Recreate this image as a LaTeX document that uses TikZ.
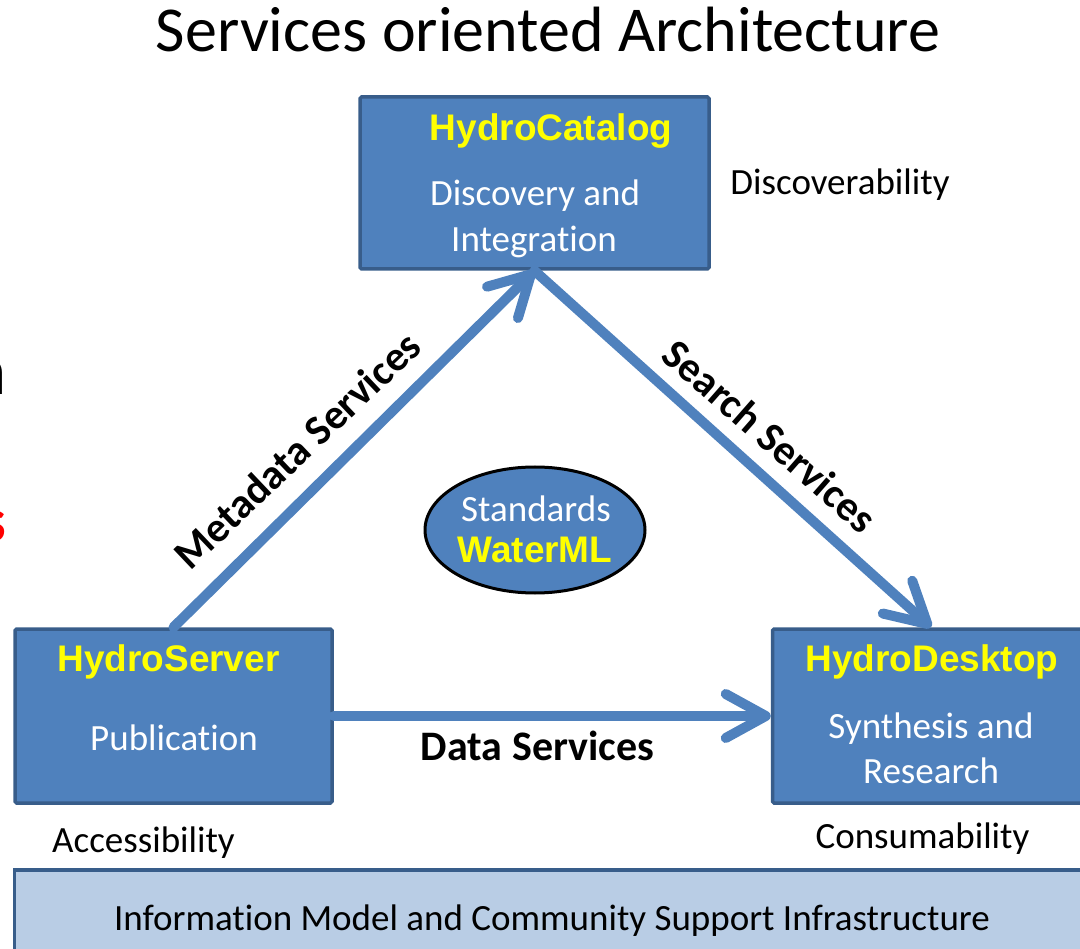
\documentclass[tikz,border=0pt]{standalone}
\usepackage{fontspec}
\setmainfont[Ligatures={NoCommon}]{Carlito}
\newfontfamily\headfont{Liberation Sans}
\usetikzlibrary{arrows.meta,shapes.geometric}
\definecolor{boxblue}{HTML}{4F81BD}
\definecolor{boxedge}{HTML}{385D8A}
\definecolor{barblue}{HTML}{B9CDE5}
\definecolor{headyellow}{HTML}{FFFF00}
\newcommand{\fsz}[1]{\fontsize{#1}{#1}\selectfont}
\begin{document}
\begin{tikzpicture}[x=1pt,y=-1pt,
    tier/.style={draw=boxedge,fill=boxblue,line width=3.5pt,rounded corners=1.5pt,inner sep=0pt},
    tiername/.style={anchor=base,text=headyellow,font=\headfont\bfseries\fsz{37}},
    tierrole/.style={anchor=base,text=white,font=\fsz{37}},
    quality/.style={anchor=base,font=\fsz{37}},
    flow/.style={draw=boxblue,line width=10pt,line cap=round,-{Straight Barb[round,length=40pt,width=44pt]}},
    flowlabel/.style={anchor=base,font=\bfseries\fsz{42}}]
  \useasboundingbox (0,0) rectangle (1080,949);

  % title and the cut off text at the left edge
  \node[anchor=base,font=\fsz{64}] (title) at (548,52) {Services oriented Architecture};
  \node[anchor=base east,font=\bfseries\fsz{70},inner sep=0pt] (cutn) at (6,395) {n};
  \node[anchor=base east,text=red,font=\bfseries\fsz{62},inner sep=0pt] (cuts) at (6,542) {s};

  % the three tiers
  \node[tier,minimum width=349,minimum height=172] (catalog) at (534.5,183) {};
  \node[tier,minimum width=317,minimum height=174] (server) at (173.5,716) {};
  \node[tier,minimum width=317,minimum height=174] (desktop) at (931,716) {};

  \node[tiername] (catalogname) at (551,141) {HydroCatalog};
  \node[tierrole] (catalogrole1) at (535,206) {Discovery and};
  \node[tierrole] (catalogrole2) at (534,252) {Integration};
  \node[tiername] (servername) at (168.5,671) {HydroServer};
  \node[tierrole] (serverrole) at (174,750) {Publication};
  \node[tiername] (desktopname) at (932,671) {HydroDesktop};
  \node[tierrole] (desktoprole1) at (931,738) {Synthesis and};
  \node[tierrole] (desktoprole2) at (931,783) {Research};

  \node[quality] (discover) at (840,195) {Discoverability};
  \node[quality] (access) at (143.5,852) {Accessibility};
  \node[quality] (consume) at (922.5,848) {Consumability};

  % standards in the middle
  \node[ellipse,draw=black,fill=boxblue,line width=3pt,minimum width=220,minimum height=126] (standards) at (535,530) {};
  \node[tierrole] (stdname) at (536,522) {Standards};
  \node[tiername] (stdml) at (535,563) {WaterML};

  % services between the tiers
  \draw[flow] (server.north) -- (catalog.south);
  \draw[flow] (catalog.south) -- (desktop.north);
  \draw[flow] (server.east) -- (desktop.west);
  \node[flowlabel,anchor=center,rotate=43.5] (metadata) at (297,450) {Metadata Services};
  \node[flowlabel,anchor=center,rotate=-41.3] (search) at (770,436) {Search Services};
  \node[flowlabel] (data) at (537.5,760) {Data Services};

  % infrastructure bar
  \node[draw=boxedge,fill=barblue,line width=3.5pt,minimum width=1075,minimum height=90,inner sep=0pt] (infra) at (552,915) {};
  \node[quality] (infratext) at (552,930) {Information Model and Community Support Infrastructure};
\end{tikzpicture}
\end{document}
